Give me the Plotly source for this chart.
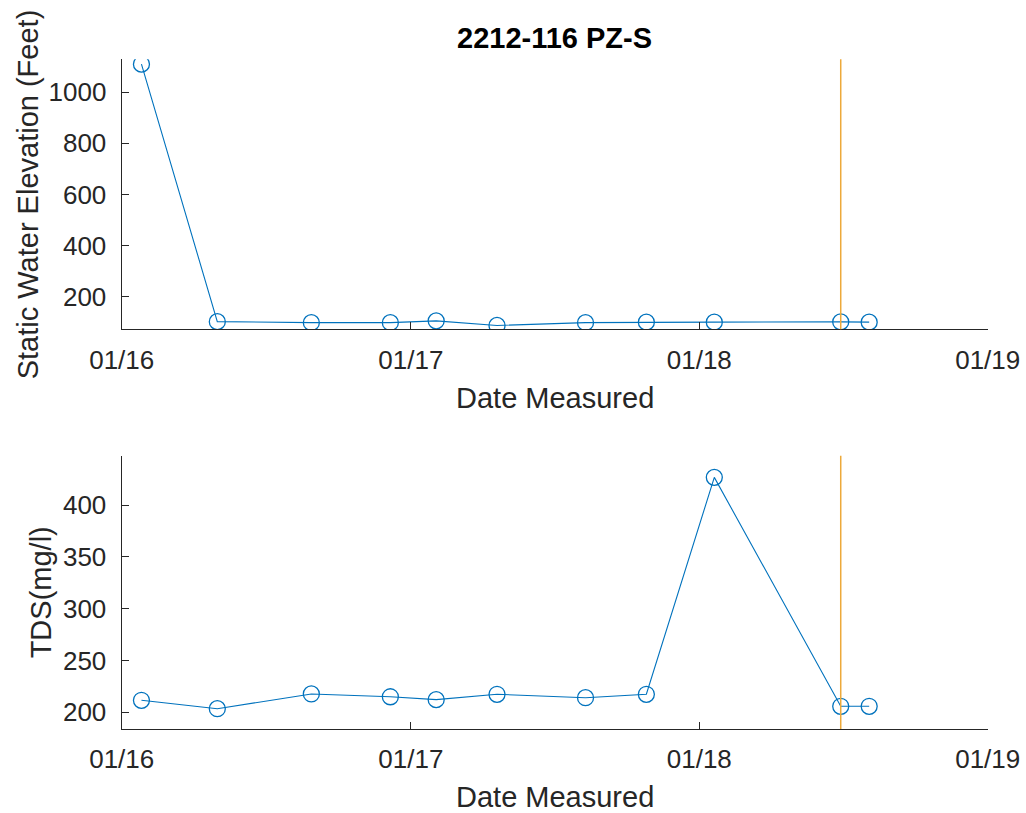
import plotly.graph_objects as go

# ---- data ----
dates = ["2016-01-26", "2016-05-01", "2016-08-28", "2016-12-06", "2017-02-02",
         "2017-04-20", "2017-08-10", "2017-10-26", "2018-01-20", "2018-06-29",
         "2018-08-04"]
elevation = [1110, 102, 98, 98, 105, 87, 98, 100, 100, 101, 100]
tds = [211.6, 203.5, 217.7, 215.0, 212.2, 217.4, 214.1, 217.4, 426.7, 205.8, 205.8]
marker_date = "2018-06-29"
x_ticks = ["2016-01-01", "2017-01-01", "2018-01-01", "2019-01-01"]
x_ticktext = ["01/16", "01/17", "01/18", "01/19"]
elev_ticks = [200, 400, 600, 800, 1000]
tds_ticks = [200, 250, 300, 350, 400]
title = "2212-116 PZ-S"
xlabel = "Date Measured"
ylabel_top = "Static Water Elevation (Feet)"
ylabel_bottom = "TDS(mg/l)"

BLUE = "#0072BD"
ORANGE = "#EDA93A"
AX = "#262626"
FONT = "Liberation Sans, Arial, Helvetica, sans-serif"
TICK = 26
LAB = 29

W, H = 1026, 813
xl, xr = 121.7 / W, 987.7 / W
top_dom = [1 - 329.3 / H, 1 - 59.3 / H]
bot_dom = [1 - 729 / H, 1 - 455.7 / H]


def px(xp):
    return xp / W


def py(yp):
    return 1 - yp / H


fig = go.Figure()
for y, xa, ya in [(elevation, "x", "y"), (tds, "x2", "y2")]:
    fig.add_trace(go.Scatter(
        x=dates, y=y, xaxis=xa, yaxis=ya, mode="lines+markers",
        line=dict(color=BLUE, width=1.1),
        marker=dict(symbol="circle-open", size=16, color=BLUE, line=dict(width=1.3, color=BLUE)),
        showlegend=False, hoverinfo="x+y"))

for xa, ya in [("x", "y"), ("x2", "y2")]:
    fig.add_shape(type="line", xref=xa, yref=ya + " domain",
                  x0=marker_date, x1=marker_date, y0=0, y1=1,
                  line=dict(color=ORANGE, width=1.5), layer="above")

xcommon = dict(type="date", range=["2016-01-01", "2019-01-01"], tickvals=x_ticks,
               ticktext=x_ticktext, showgrid=False, zeroline=False, showline=True,
               linecolor=AX, linewidth=1.3, ticks="inside", ticklen=7, tickwidth=1.3,
               tickcolor=AX, tickfont=dict(size=TICK, color=AX, family=FONT),
               ticklabelstandoff=7, mirror=False, automargin=False)
ycommon = dict(showgrid=False, zeroline=False, showline=True, linecolor=AX, linewidth=1.3,
               ticks="inside", ticklen=7, tickwidth=1.3, tickcolor=AX,
               tickfont=dict(size=TICK, color=AX, family=FONT), ticklabelstandoff=9,
               mirror=False, automargin=False)

lab_font = dict(size=LAB, color=AX, family=FONT)
annotations = [
    dict(text=xlabel, x=(xl + xr) / 2, y=py(398), xref="paper", yref="paper",
         xanchor="center", yanchor="middle", showarrow=False, font=lab_font),
    dict(text=xlabel, x=(xl + xr) / 2, y=py(797), xref="paper", yref="paper",
         xanchor="center", yanchor="middle", showarrow=False, font=lab_font),
    dict(text=ylabel_top, x=px(28), y=sum(top_dom) / 2, xref="paper", yref="paper",
         xanchor="center", yanchor="middle", textangle=-90, showarrow=False, font=lab_font),
    dict(text=ylabel_bottom, x=px(41), y=sum(bot_dom) / 2, xref="paper", yref="paper",
         xanchor="center", yanchor="middle", textangle=-90, showarrow=False, font=lab_font),
    dict(text="<b>" + title + "</b>", x=(xl + xr) / 2, y=py(38), xref="paper", yref="paper",
         xanchor="center", yanchor="middle", showarrow=False,
         font=dict(size=LAB, color="black", family=FONT)),
]

fig.update_layout(
    width=W, height=H, autosize=False,
    paper_bgcolor="white", plot_bgcolor="white",
    margin=dict(l=0, r=0, t=0, b=0, autoexpand=False),
    font=dict(family=FONT, color=AX),
    xaxis=dict(domain=[xl, xr], anchor="y", **xcommon),
    xaxis2=dict(domain=[xl, xr], anchor="y2", **xcommon),
    yaxis=dict(domain=top_dom, anchor="x", range=[72, 1129], tickvals=elev_ticks, **ycommon),
    yaxis2=dict(domain=bot_dom, anchor="x2", range=[183.9, 447.6], tickvals=tds_ticks, **ycommon),
    annotations=annotations,
)

fig.write_html("out.html", config={"displayModeBar": False},
               post_script="document.body.style.margin='0';document.body.style.overflow='hidden';")
